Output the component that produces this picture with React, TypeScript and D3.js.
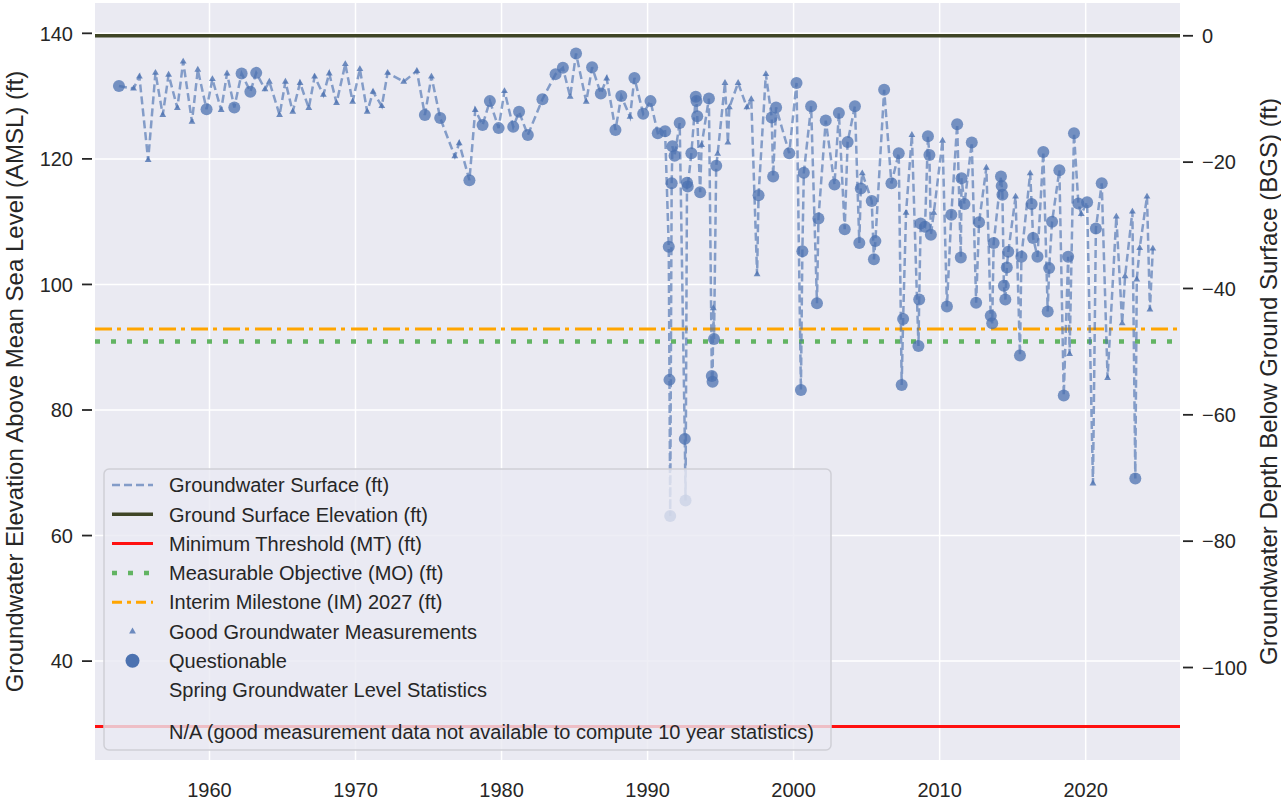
import React from 'react';
import * as d3 from 'd3';

// measurement dates (decimal years), levels (ft AMSL) and quality flag (G = good, Q = questionable)
const measDates = [
  1953.8, 1954.8, 1955.2, 1955.8, 1956.3, 1956.8, 1957.2, 1957.8, 1958.2, 1958.8, 1959.2, 1959.8,
  1960.2, 1960.8, 1961.2, 1961.7, 1962.2, 1962.8, 1963.2, 1963.8, 1964.1, 1964.8, 1965.2, 1965.7,
  1966.2, 1966.8, 1967.2, 1967.8, 1968.2, 1968.7, 1969.3, 1969.8, 1970.3, 1970.8, 1971.2, 1971.8,
  1972.2, 1973.3, 1974.2, 1974.75, 1975.2, 1975.8, 1976.8, 1977.1, 1977.8, 1978.2, 1978.7, 1979.2,
  1979.8, 1980.2, 1980.8, 1981.2, 1981.8, 1982.8, 1983.7, 1984.2, 1984.7, 1985.1, 1985.8, 1986.2,
  1986.8, 1987.2, 1987.8, 1988.2, 1988.8, 1989.1, 1989.7, 1990.2, 1990.7, 1991.2, 1991.45, 1991.5,
  1991.55, 1991.65, 1991.7, 1991.85, 1992.2, 1992.55, 1992.6, 1992.7, 1992.75, 1993.0, 1993.3, 1993.35,
  1993.4, 1993.6, 1993.7, 1994.2, 1994.4, 1994.45, 1994.5, 1994.55, 1994.7, 1994.8, 1995.3, 1995.5,
  1995.6, 1996.2, 1996.8, 1997.1, 1997.5, 1997.6, 1998.1, 1998.5, 1998.6, 1998.8, 1999.7, 2000.2,
  2000.5, 2000.6, 2000.7, 2001.2, 2001.6, 2001.7, 2002.2, 2002.8, 2003.1, 2003.5, 2003.7, 2004.2,
  2004.5, 2004.6, 2004.7, 2005.35, 2005.5, 2005.6, 2006.2, 2006.7, 2007.2, 2007.4, 2007.5, 2007.7,
  2008.1, 2008.55, 2008.6, 2008.7, 2009.0, 2009.2, 2009.3, 2009.4, 2009.6, 2010.2, 2010.5, 2010.8,
  2011.2, 2011.45, 2011.5, 2011.7, 2012.2, 2012.5, 2012.7, 2013.2, 2013.5, 2013.6, 2013.7, 2014.2,
  2014.25, 2014.3, 2014.4, 2014.5, 2014.6, 2014.7, 2015.2, 2015.5, 2015.6, 2016.2, 2016.3, 2016.4,
  2016.7, 2017.1, 2017.4, 2017.5, 2017.7, 2018.2, 2018.5, 2018.8, 2018.9, 2019.2, 2019.5, 2019.7,
  2020.1, 2020.5, 2020.7, 2021.1, 2021.5, 2022.1, 2022.5, 2022.7, 2023.2, 2023.4, 2023.5, 2023.7,
  2024.2, 2024.4, 2024.6,
];
const measLevels = [
  131.6, 131.2, 133.1, 119.8, 133.7, 127.0, 133.4, 128.1, 135.5, 125.9, 134.2, 127.9,
  132.7, 127.8, 133.6, 128.2, 133.6, 130.7, 133.7, 131.1, 132.3, 127.0, 132.3, 127.5,
  132.1, 128.1, 133.1, 130.2, 133.6, 128.9, 135.1, 129.1, 134.3, 127.5, 130.7, 128.4,
  133.7, 132.3, 134.0, 127.0, 133.1, 126.5, 120.4, 122.5, 116.6, 127.8, 125.4, 129.2,
  124.9, 130.8, 125.1, 127.5, 123.8, 129.5, 133.5, 134.5, 129.9, 136.8, 129.1, 134.6,
  130.4, 132.8, 124.6, 130.0, 126.7, 132.9, 127.2, 129.2, 124.1, 124.4, 106.0, 84.8,
  63.1, 116.1, 122.0, 120.5, 125.7, 75.4, 65.6, 116.2, 115.6, 120.9, 129.9, 129.2,
  126.8, 114.7, 122.2, 129.6, 85.4, 84.5, 96.2, 91.3, 118.9, 120.8, 132.1, 122.6,
  128.2, 132.1, 128.2, 129.5, 101.6, 114.2, 133.5, 126.6, 117.2, 128.2, 120.9, 132.1,
  83.2, 105.3, 117.8, 128.4, 97.0, 110.5, 126.1, 115.9, 127.3, 108.8, 122.7, 128.4,
  106.6, 115.3, 117.7, 113.3, 104.0, 106.9, 131.0, 116.1, 120.9, 84.0, 94.5, 111.4,
  123.8, 90.2, 97.6, 109.7, 109.2, 123.6, 120.6, 107.9, 111.4, 122.9, 96.5, 111.1,
  125.5, 104.3, 116.9, 112.8, 122.6, 97.1, 109.9, 118.6, 95.0, 93.8, 106.6, 117.2,
  115.7, 114.3, 99.8, 97.6, 102.7, 105.2, 114.0, 88.7, 104.4, 117.7, 112.8, 107.4,
  104.4, 121.1, 95.7, 102.6, 110.0, 118.2, 82.3, 104.4, 88.9, 124.1, 112.9, 111.2,
  113.1, 68.3, 108.9, 116.1, 85.1, 110.8, 93.8, 101.3, 111.6, 69.1, 100.8, 105.8,
  114.0, 96.0, 105.7,
];
const measQuality = [
  'Q', 'G', 'G', 'G', 'G', 'G', 'G', 'G', 'G', 'G', 'G', 'Q',
  'G', 'G', 'G', 'Q', 'Q', 'Q', 'Q', 'G', 'G', 'G', 'G', 'G',
  'G', 'G', 'G', 'G', 'G', 'G', 'G', 'G', 'G', 'G', 'G', 'G',
  'G', 'G', 'G', 'Q', 'G', 'Q', 'G', 'G', 'Q', 'G', 'Q', 'Q',
  'Q', 'G', 'Q', 'Q', 'Q', 'Q', 'Q', 'Q', 'G', 'Q', 'G', 'Q',
  'Q', 'G', 'Q', 'Q', 'G', 'Q', 'Q', 'Q', 'Q', 'Q', 'Q', 'Q',
  'Q', 'Q', 'Q', 'Q', 'Q', 'Q', 'Q', 'Q', 'Q', 'Q', 'Q', 'Q',
  'Q', 'Q', 'G', 'Q', 'Q', 'Q', 'G', 'Q', 'Q', 'G', 'G', 'G',
  'G', 'G', 'G', 'G', 'G', 'Q', 'G', 'Q', 'Q', 'Q', 'Q', 'Q',
  'Q', 'Q', 'Q', 'Q', 'Q', 'Q', 'Q', 'Q', 'Q', 'Q', 'Q', 'Q',
  'Q', 'Q', 'G', 'Q', 'Q', 'Q', 'Q', 'Q', 'Q', 'Q', 'Q', 'G',
  'G', 'Q', 'Q', 'Q', 'Q', 'Q', 'Q', 'Q', 'G', 'G', 'Q', 'Q',
  'Q', 'Q', 'Q', 'Q', 'Q', 'Q', 'Q', 'G', 'Q', 'Q', 'Q', 'Q',
  'Q', 'Q', 'Q', 'Q', 'Q', 'Q', 'G', 'Q', 'Q', 'G', 'Q', 'Q',
  'Q', 'Q', 'Q', 'Q', 'Q', 'Q', 'Q', 'Q', 'G', 'Q', 'Q', 'G',
  'Q', 'G', 'Q', 'Q', 'G', 'G', 'G', 'G', 'G', 'Q', 'G', 'G',
  'G', 'G', 'G',
];

// reference levels (ft AMSL)
const groundSurface = 139.6;
const minThreshold = 29.6;
const measurableObjective = 90.9;
const interimMilestone = 92.9;

const xTicks = [1960, 1970, 1980, 1990, 2000, 2010, 2020];
const leftTicks = [40, 60, 80, 100, 120, 140];
const rightTicks = [-100, -80, -60, -40, -20, 0];

const legendLabels = [
  'Groundwater Surface (ft)',
  'Ground Surface Elevation (ft)',
  'Minimum Threshold (MT) (ft)',
  'Measurable Objective (MO) (ft)',
  'Interim Milestone (IM) 2027 (ft)',
  'Good Groundwater Measurements',
  'Questionable',
  'Spring Groundwater Level Statistics',
];
const naLabel = 'N/A (good measurement data not available to compute 10 year statistics)';

const FONT = '"Liberation Sans", Arial, Helvetica, sans-serif';
const BLUE = '#4C72B0';
const OLIVE = '#3f4526';
const MO_GREEN = '#62b462';
const IM_ORANGE = '#ffa500';

const App: React.FC = () => {
  const width = 1281;
  const height = 802;
  const plot = { left: 95, right: 1180, top: 3, bottom: 760 };

  const x = d3.scaleLinear().domain([1952.16, 2026.46]).range([plot.left, plot.right]);
  const y = d3.scaleLinear().domain([24.25, 144.83]).range([plot.bottom, plot.top]);
  const yRight = d3.scaleLinear().domain([-114.64, 5.19]).range([plot.bottom, plot.top]);

  const idx = measDates.map((_, i) => i);
  const line = d3.line<number>()
    .x(i => x(measDates[i]))
    .y(i => y(measLevels[i]));

  const triPath = d3.symbol(d3.symbolTriangle, 20)() || '';

  const fmtRight = (v: number) => (v < 0 ? '\u2212' + Math.abs(v) : String(v));

  const refLine = (v: number) => y(v);

  // legend geometry
  const lg = { x: 104, y: 469, w: 727, h: 281 };
  const rowY = (i: number) => 485 + i * 29.3;
  const hx0 = 112;
  const hx1 = 153;
  const hxc = (hx0 + hx1) / 2;

  return (
    <svg width={width} height={height} style={{ position: 'absolute', left: 0, top: 0, background: '#fff' }}
      fontFamily={FONT}>
      <rect x={plot.left} y={plot.top} width={plot.right - plot.left} height={plot.bottom - plot.top} fill="#EAEAF2" />

      {/* grid */}
      {xTicks.map(t => (
        <line key={'gx' + t} x1={x(t)} x2={x(t)} y1={plot.top} y2={plot.bottom} stroke="#fff" strokeWidth={1.5} />
      ))}
      {leftTicks.map(t => (
        <line key={'gy' + t} x1={plot.left} x2={plot.right} y1={y(t)} y2={y(t)} stroke="#fff" strokeWidth={1.5} />
      ))}

      {/* reference lines */}
      <line x1={plot.left} x2={plot.right} y1={refLine(minThreshold)} y2={refLine(minThreshold)} stroke="#ff1010" strokeWidth={3} />
      <line x1={plot.left} x2={plot.right} y1={refLine(measurableObjective)} y2={refLine(measurableObjective)}
        stroke={MO_GREEN} strokeWidth={4.5} strokeDasharray="5,11" />
      <line x1={plot.left} x2={plot.right} y1={refLine(interimMilestone)} y2={refLine(interimMilestone)}
        stroke={IM_ORANGE} strokeWidth={3} strokeDasharray="17,5,4,6" />

      {/* groundwater surface */}
      <path d={line(idx) || ''} fill="none" stroke={BLUE} strokeOpacity={0.65} strokeWidth={2.5} strokeDasharray="8,4" />
      {idx.filter(i => measQuality[i] === 'G').map(i => (
        <path key={'g' + i} d={triPath} transform={`translate(${x(measDates[i])},${y(measLevels[i])})`}
          fill={BLUE} fillOpacity={0.8} />
      ))}
      {idx.filter(i => measQuality[i] === 'Q').map(i => (
        <circle key={'q' + i} cx={x(measDates[i])} cy={y(measLevels[i])} r={6} fill={BLUE} fillOpacity={0.75} />
      ))}

      <line x1={plot.left} x2={plot.right} y1={refLine(groundSurface)} y2={refLine(groundSurface)} stroke={OLIVE} strokeWidth={3.5} />

      {/* left axis */}
      {leftTicks.map(t => (
        <g key={'ly' + t}>
          <line x1={82} x2={92} y1={y(t)} y2={y(t)} stroke="#262626" strokeWidth={1.8} />
          <text x={73} y={y(t)} dy="0.36em" textAnchor="end" fontSize={20} fill="#262626">{t}</text>
        </g>
      ))}
      <text transform={`translate(23,${(plot.top + plot.bottom) / 2}) rotate(-90)`} textAnchor="middle"
        fontSize={24} fill="#262626">Groundwater Elevation Above Mean Sea Level (AMSL) (ft)</text>

      {/* right axis */}
      {rightTicks.map(t => (
        <g key={'ry' + t}>
          <line x1={1183} x2={1193} y1={yRight(t)} y2={yRight(t)} stroke="#262626" strokeWidth={1.8} />
          <text x={1202} y={yRight(t)} dy="0.36em" textAnchor="start" fontSize={20} fill="#262626">{fmtRight(t)}</text>
        </g>
      ))}
      <text transform={`translate(1277,${(plot.top + plot.bottom) / 2}) rotate(-90)`} textAnchor="middle"
        fontSize={24} fill="#262626">Groundwater Depth Below Ground Surface (BGS) (ft)</text>

      {/* bottom axis */}
      {xTicks.map(t => (
        <text key={'lx' + t} x={x(t)} y={797} textAnchor="middle" fontSize={20} fill="#262626">{t}</text>
      ))}

      {/* legend */}
      <rect x={lg.x} y={lg.y} width={lg.w} height={lg.h} rx={5} ry={5} fill="#EAEAF2" fillOpacity={0.8}
        stroke="#cfcfd6" strokeWidth={1.5} />
      <line x1={hx0} x2={hx1} y1={rowY(0)} y2={rowY(0)} stroke={BLUE} strokeOpacity={0.65} strokeWidth={2.5} strokeDasharray="8,4" />
      <line x1={hx0} x2={hx1} y1={rowY(1)} y2={rowY(1)} stroke={OLIVE} strokeWidth={3.5} />
      <line x1={hx0} x2={hx1} y1={rowY(2)} y2={rowY(2)} stroke="#ff1010" strokeWidth={3} />
      <line x1={hx0} x2={hx1} y1={rowY(3)} y2={rowY(3)} stroke={MO_GREEN} strokeWidth={4.5} strokeDasharray="5,11" />
      <line x1={hx0} x2={hx1} y1={rowY(4)} y2={rowY(4)} stroke={IM_ORANGE} strokeWidth={3} strokeDasharray="10,5,4,5" />
      <path d={triPath} transform={`translate(${hxc},${rowY(5)})`} fill={BLUE} fillOpacity={0.8} />
      <circle cx={hxc} cy={rowY(6)} r={7} fill={BLUE} />
      {legendLabels.map((label, i) => (
        <text key={'lg' + i} x={169} y={rowY(i)} dy="0.36em" fontSize={20} fill="#262626">{label}</text>
      ))}
      <text x={169} y={732} dy="0.36em" fontSize={20} fill="#262626">{naLabel}</text>
    </svg>
  );
};

export default App;
